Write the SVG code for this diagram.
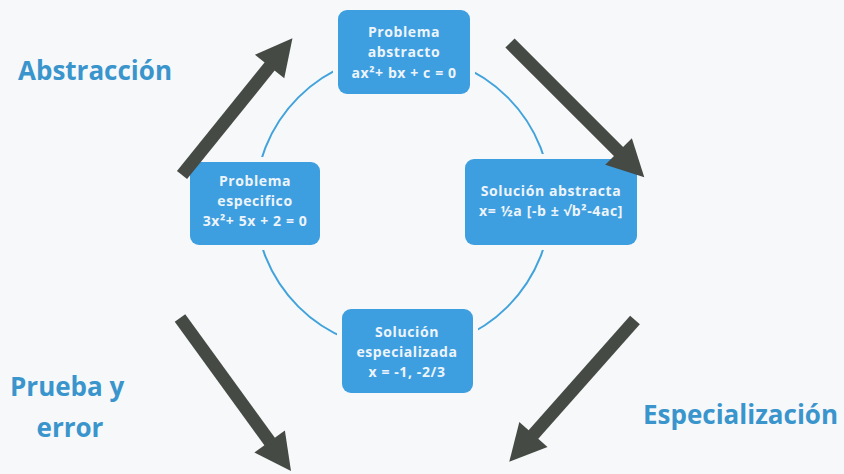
<svg xmlns="http://www.w3.org/2000/svg" width="844" height="474" viewBox="0 0 844 474">
  <style>
    .bg { fill: #f7f8fa; }
    .ring { fill: none; stroke: #42a3dc; stroke-width: 2; }
    .box { fill: #3d9fe0; stroke: #f7f8fa; stroke-width: 10; paint-order: stroke; }
    .btxt { fill: #eef4fb; font-family: "Open Sans", "DejaVu Sans", sans-serif; font-weight: bold; font-size: 14px; text-anchor: middle; letter-spacing: 0.6px; }
    .lbl { fill: #3a95cd; font-family: "Open Sans", "DejaVu Sans", sans-serif; font-weight: bold; font-size: 26px; }
    .arrow { stroke: #464a45; stroke-width: 13; marker-end: url(#head); }
  </style>
  <defs>
    <marker id="head" markerUnits="strokeWidth" markerWidth="3" markerHeight="3" viewBox="0 -1.5 2.9 3" refX="0.05" refY="0" orient="auto" overflow="visible">
      <path d="M0,-1.45 L2.8,0 L0,1.45 Z" fill="#464a45"/>
    </marker>
  </defs>

  <rect class="bg" x="0" y="0" width="844" height="474"/>

  <!-- cycle ring behind the nodes -->
  <circle class="ring" cx="403" cy="202" r="148"/>

  <g id="problema-abstracto">
    <rect class="box" x="338" y="10" width="132" height="84" rx="9"/>
    <text class="btxt" x="404" y="37">Problema</text>
    <text class="btxt" x="404" y="57">abstracto</text>
    <text class="btxt" x="404" y="78">ax²+ bx + c = 0</text>
  </g>

  <g id="problema-especifico">
    <rect class="box" x="190" y="162" width="130" height="83" rx="9"/>
    <text class="btxt" x="255" y="186">Problema</text>
    <text class="btxt" x="255" y="206">especifico</text>
    <text class="btxt" x="255" y="226">3x²+ 5x + 2 = 0</text>
  </g>

  <g id="solucion-abstracta">
    <rect class="box" x="465" y="159" width="172" height="86" rx="9"/>
    <text class="btxt" x="551" y="196" letter-spacing="0.2">Solución abstracta</text>
    <text class="btxt" x="551" y="216" letter-spacing="0">x= ½a [-b ± √b²-4ac]</text>
  </g>

  <g id="solucion-especializada">
    <rect class="box" x="342" y="309" width="131" height="84" rx="9"/>
    <text class="btxt" x="407" y="337">Solución</text>
    <text class="btxt" x="407" y="357">especializada</text>
    <text class="btxt" x="407" y="377">x = -1, -2/3</text>
  </g>

  <!-- connectors: thick process arrows, drawn over the nodes -->
  <g id="connectors">
    <line class="arrow" x1="182" y1="175" x2="270" y2="66"/>
    <line class="arrow" x1="510" y1="43" x2="619" y2="152"/>
    <line class="arrow" x1="180" y1="318" x2="270" y2="442"/>
    <line class="arrow" x1="635" y1="320" x2="533" y2="435"/>
  </g>

  <!-- side labels -->
  <g id="labels">
    <text class="lbl" x="18" y="80" font-size="21.5">Abstracción</text>
    <text class="lbl" x="10" y="396">Prueba y</text>
    <text class="lbl" x="70" y="437" text-anchor="middle">error</text>
    <text class="lbl" x="643" y="424">Especialización</text>
  </g>
</svg>
